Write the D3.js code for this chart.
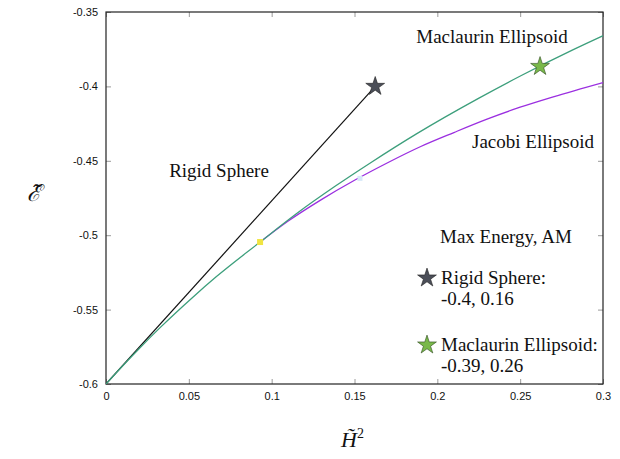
<!DOCTYPE html>
<html>
<head>
  <meta charset="utf-8">
  <title>Max Energy, AM</title>
  <style>
    body { margin: 0; background: #fff; }
  </style>
</head>
<body>
  <div class="container"></div>

  <script src="https://cdn.jsdelivr.net/npm/d3@7/dist/d3.min.js"></script>
  <script type="text/javascript">
    // values
    var xTicks = [0, 0.05, 0.1, 0.15, 0.2, 0.25, 0.3];
    var yTicks = [-0.6, -0.55, -0.5, -0.45, -0.4, -0.35];

    var rigidH2 = [0, 0.1625];
    var rigidE  = [-0.6, -0.4];

    var maclaurinH2 = [0, 0.0062, 0.0201, 0.0325, 0.0521, 0.0665, 0.093, 0.1145, 0.1387, 0.16, 0.1874, 0.2254, 0.2507, 0.283, 0.3028];
    var maclaurinE  = [-0.6, -0.5924, -0.5761, -0.5623, -0.542, -0.528, -0.5046, -0.4859, -0.4668, -0.4511, -0.4319, -0.4077, -0.3927, -0.3748, -0.3645];

    var jacobiH2 = [0.093, 0.11, 0.13, 0.15, 0.17, 0.19, 0.21, 0.23, 0.25, 0.27, 0.3];
    var jacobiE  = [-0.5046, -0.4905, -0.4761, -0.4631, -0.4513, -0.4404, -0.431, -0.422, -0.414, -0.407, -0.3974];

    var bifurcation = [0.093, -0.5046];
    var faintPoint = [0.1533, -0.4618];
    var rigidStar = [0.1625, -0.4];
    var maclaurinStar = [0.262, -0.3866];

    var margin = {top: 12, right: 17, bottom: 75, left: 106},
        width  = 620 - margin.left - margin.right,
        height = 459 - margin.top - margin.bottom;

    var svg = d3.select(".container")
        .append("svg")
        .attr("width", 620)
        .attr("height", 459);

    var g = svg.append("g")
        .attr("transform", "translate(" + margin.left + "," + margin.top + ")");

    var xScale = d3.scaleLinear().domain([0, 0.3]).range([0, width]);
    var yScale = d3.scaleLinear().domain([-0.6, -0.35]).range([height, 0]);

    var sans = "'Liberation Sans', Arial, sans-serif";
    var serif = "'Liberation Serif', 'Times New Roman', serif";

    // axes, ticks pointing inward on all four sides
    function styleAxis(sel) {
      sel.select(".domain").remove();
      sel.selectAll(".tick line").attr("stroke", "#9a9a9a");
      sel.selectAll(".tick text").attr("font-family", sans).attr("font-size", 11).attr("fill", "#111");
    }

    g.append("g")
        .attr("transform", "translate(0," + height + ")")
        .call(d3.axisBottom(xScale).tickValues(xTicks).tickSize(-5).tickPadding(8).tickFormat(function(d){ return String(d); }))
        .call(styleAxis);

    g.append("g")
        .call(d3.axisTop(xScale).tickValues(xTicks).tickSize(-5).tickFormat(""))
        .call(styleAxis);

    g.append("g")
        .call(d3.axisLeft(yScale).tickValues(yTicks).tickSize(-5).tickPadding(8).tickFormat(function(d){ return String(d); }))
        .call(styleAxis);

    g.append("g")
        .attr("transform", "translate(" + width + ",0)")
        .call(d3.axisRight(yScale).tickValues(yTicks).tickSize(-5).tickFormat(""))
        .call(styleAxis);

    g.append("rect")
        .attr("width", width)
        .attr("height", height)
        .attr("fill", "none")
        .attr("stroke", "#222")
        .attr("stroke-width", 1.2);

    g.append("clipPath").attr("id", "plotclip")
      .append("rect").attr("width", width).attr("height", height);

    var line = d3.line()
        .x(function(d){ return xScale(d[0]); })
        .y(function(d){ return yScale(d[1]); })
        .curve(d3.curveMonotoneX);

    var curves = g.append("g").attr("clip-path", "url(#plotclip)");

    curves.append("path")
        .datum(d3.zip(rigidH2, rigidE))
        .attr("d", line)
        .attr("fill", "none")
        .attr("stroke", "#111")
        .attr("stroke-width", 1.2);

    curves.append("path")
        .datum(d3.zip(jacobiH2, jacobiE))
        .attr("d", line)
        .attr("fill", "none")
        .attr("stroke", "#9b2fe0")
        .attr("stroke-width", 1.3);

    curves.append("path")
        .datum(d3.zip(maclaurinH2, maclaurinE))
        .attr("d", line)
        .attr("fill", "none")
        .attr("stroke", "#3d9f7c")
        .attr("stroke-width", 1.3);

    g.append("rect")
        .attr("x", xScale(faintPoint[0]) - 2.5)
        .attr("y", yScale(faintPoint[1]) - 2.5)
        .attr("width", 5)
        .attr("height", 5)
        .attr("fill", "#d6e8f8");

    g.append("rect")
        .attr("x", xScale(bifurcation[0]) - 3)
        .attr("y", yScale(bifurcation[1]) - 3)
        .attr("width", 6)
        .attr("height", 6)
        .attr("fill", "#f0e442");

    var star = d3.symbol().type(d3.symbolStar).size(110);

    g.append("path")
        .attr("d", star)
        .attr("transform", "translate(" + xScale(rigidStar[0]) + "," + yScale(rigidStar[1]) + ")")
        .attr("fill", "#4b4e58")
        .attr("stroke", "#222")
        .attr("stroke-width", 0.6);

    g.append("path")
        .attr("d", star)
        .attr("transform", "translate(" + xScale(maclaurinStar[0]) + "," + yScale(maclaurinStar[1]) + ")")
        .attr("fill", "#79b84a")
        .attr("stroke", "#2f4a20")
        .attr("stroke-width", 0.6);

    // curve labels
    function label(x, y, txt, anchor) {
      return svg.append("text")
          .attr("x", x)
          .attr("y", y)
          .attr("text-anchor", anchor || "start")
          .attr("font-family", serif)
          .attr("font-size", 19)
          .attr("fill", "#111")
          .text(txt);
    }

    label(492, 43, "Maclaurin Ellipsoid", "middle");
    label(533, 148, "Jacobi Ellipsoid", "middle");
    label(219, 177, "Rigid Sphere", "middle");

    label(440, 243, "Max Energy, AM");

    svg.append("path")
        .attr("d", star)
        .attr("transform", "translate(427,278)")
        .attr("fill", "#4b4e58")
        .attr("stroke", "#222")
        .attr("stroke-width", 0.6);
    label(441, 284, "Rigid Sphere:");
    label(441, 305, "-0.4, 0.16");

    svg.append("path")
        .attr("d", star)
        .attr("transform", "translate(427,345)")
        .attr("fill", "#79b84a")
        .attr("stroke", "#2f4a20")
        .attr("stroke-width", 0.6);
    label(441, 351, "Maclaurin Ellipsoid:");
    label(441, 372, "-0.39, 0.26");

    // axis titles, with combining tilde
    svg.append("text")
        .attr("x", 27)
        .attr("y", 201)
        .attr("font-family", "'DejaVu Serif', serif")
        .attr("font-style", "italic")
        .attr("font-size", 23)
        .attr("fill", "#111")
        .text("\u2130\u0303");

    var xt = svg.append("text")
        .attr("x", 341)
        .attr("y", 447)
        .attr("font-family", serif)
        .attr("font-size", 22)
        .attr("fill", "#111");
    xt.append("tspan").attr("font-style", "italic").text("H\u0303");
    xt.append("tspan").attr("font-size", 14).attr("dy", -9).text("2");
  </script>
</body>
</html>
